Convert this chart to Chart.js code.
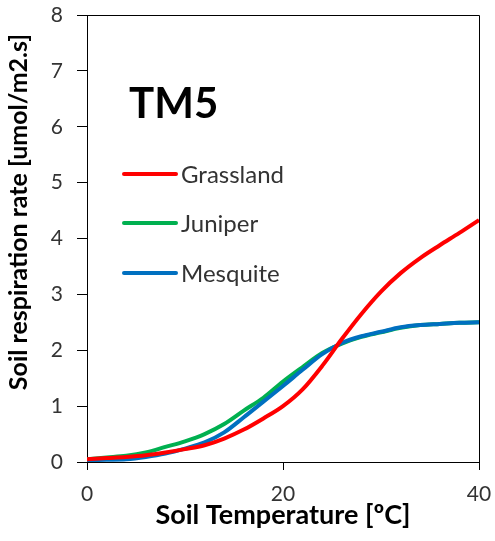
<!DOCTYPE html>
<html>
<head>
<meta charset="utf-8">
<script src="https://cdn.jsdelivr.net/npm/chart.js@4"></script>
<style>
    html, body { margin: 0; padding: 0; background: #fff; }
    #wrap { width: 495px; height: 541px; position: relative; }
</style>
</head>
<body>
<div id="wrap"><canvas id="respChart"></canvas></div>
<script>
// Soil respiration vs soil temperature, site TM5
const temps = [0, 2, 4, 6, 8, 10, 12, 14, 16, 18, 20, 22, 24, 26, 28, 30, 32, 34, 36, 38, 40];
const grassland = [0.05, 0.07, 0.09, 0.12, 0.17, 0.23, 0.30, 0.42, 0.58, 0.78, 1.00, 1.30, 1.72, 2.20, 2.65, 3.05, 3.38, 3.65, 3.88, 4.10, 4.33];
const juniper = [0.05, 0.08, 0.11, 0.17, 0.27, 0.37, 0.50, 0.68, 0.92, 1.15, 1.44, 1.70, 1.95, 2.12, 2.24, 2.32, 2.40, 2.45, 2.47, 2.49, 2.50];
const mesquite = [0.03, 0.04, 0.05, 0.09, 0.15, 0.24, 0.35, 0.53, 0.80, 1.08, 1.36, 1.65, 1.93, 2.13, 2.25, 2.33, 2.41, 2.45, 2.47, 2.49, 2.50];
const seriesNames = ['Grassland', 'Juniper', 'Mesquite'];
const seriesColors = ['#FF0000', '#00B050', '#0070C0'];
const drawOrder = [0, 2, 1]; // red on top, then blue, green underneath
const xTicks = [0, 20, 40];
const yTicks = [0, 1, 2, 3, 4, 5, 6, 7, 8];

const FONT = 'Lato, "Open Sans", sans-serif';

function toPoints(values) {
    return temps.map((t, i) => ({ x: t, y: values[i] }));
}

// Plot frame, site label, legend and y-axis title
const decorations = {
    id: 'decorations',
    beforeDatasetsDraw(chart) {
        const { ctx, chartArea: a } = chart;
        ctx.save();
        ctx.strokeStyle = '#000';
        ctx.lineWidth = 1;
        ctx.beginPath();
        ctx.moveTo(a.left, a.top + 0.5);
        ctx.lineTo(a.right + 0.5, a.top + 0.5);
        ctx.lineTo(a.right + 0.5, a.bottom);
        ctx.stroke();
        ctx.restore();
    },
    afterDraw(chart) {
        const { ctx } = chart;
        ctx.save();
        // site label
        ctx.fillStyle = '#000';
        ctx.font = 'bold 42px ' + FONT;
        ctx.textBaseline = 'alphabetic';
        ctx.textAlign = 'left';
        ctx.fillText('TM5', 129, 118);

        // legend
        const legendY = [174, 223, 273];
        ctx.font = '24px ' + FONT;
        ctx.textBaseline = 'middle';
        seriesNames.forEach((name, i) => {
            ctx.strokeStyle = seriesColors[i];
            ctx.lineWidth = 4;
            ctx.lineCap = 'round';
            ctx.beginPath();
            ctx.moveTo(124, legendY[i]);
            ctx.lineTo(176, legendY[i]);
            ctx.stroke();
            ctx.fillStyle = '#333';
            ctx.fillText(name, 181, legendY[i] + 1);
        });

        // y-axis title
        ctx.translate(19, 212);
        ctx.rotate(-Math.PI / 2);
        ctx.font = 'bold 25px ' + FONT;
        ctx.fillStyle = '#000';
        ctx.textAlign = 'center';
        ctx.textBaseline = 'middle';
        ctx.fillText('Soil respiration rate [umol/m2.s]', 0, 0);
        ctx.restore();
    }
};

const ctx = document.getElementById('respChart').getContext('2d');
new Chart(ctx, {
    type: 'line',
    data: {
        datasets: seriesNames.map((name, i) => ({
            label: name,
            data: toPoints([grassland, juniper, mesquite][i]),
            borderColor: seriesColors[i],
            backgroundColor: seriesColors[i],
            borderWidth: 4,
            pointRadius: 0,
            cubicInterpolationMode: 'monotone',
            order: drawOrder[i],
            fill: false
        }))
    },
    options: {
        responsive: true,
        maintainAspectRatio: false,
        animation: false,
        layout: { padding: { top: 15, right: 16, left: 0, bottom: 0 } },
        plugins: {
            legend: { display: false },
            tooltip: { enabled: false }
        },
        scales: {
            x: {
                type: 'linear',
                min: 0,
                max: 40,
                afterBuildTicks: (scale) => { scale.ticks = xTicks.map(v => ({ value: v })); },
                afterFit: (scale) => {
                    scale.height = 79;
                    scale.paddingLeft = 0;
                    scale.paddingRight = 0;
                },
                ticks: {
                    color: '#333',
                    font: { family: FONT, size: 21 },
                    padding: 12,
                    maxRotation: 0
                },
                grid: {
                    drawOnChartArea: false,
                    drawTicks: true,
                    tickLength: 8,
                    color: '#000'
                },
                border: { display: true, color: '#000', width: 1 },
                title: {
                    display: true,
                    text: 'Soil Temperature [ºC]',
                    color: '#000',
                    font: { family: FONT, size: 27, weight: 'bold' },
                    padding: { top: 0, bottom: 10 }
                }
            },
            y: {
                min: 0,
                max: 8,
                afterBuildTicks: (scale) => { scale.ticks = yTicks.map(v => ({ value: v })); },
                afterFit: (scale) => {
                    scale.width = 87;
                    scale.paddingTop = 0;
                    scale.paddingBottom = 0;
                },
                ticks: {
                    color: '#333',
                    font: { family: FONT, size: 21 },
                    padding: 14
                },
                grid: {
                    drawOnChartArea: false,
                    drawTicks: true,
                    tickLength: 10,
                    color: '#000'
                },
                border: { display: true, color: '#000', width: 1 }
            }
        }
    },
    plugins: [decorations]
});
</script>
</body>
</html>
